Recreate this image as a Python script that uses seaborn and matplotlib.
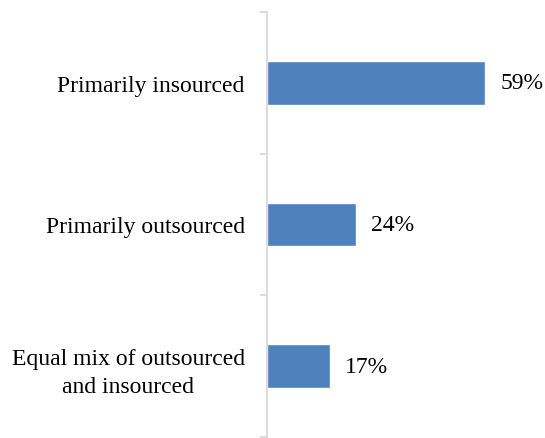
import matplotlib
matplotlib.use("Agg")
import matplotlib.pyplot as plt
import seaborn as sns
import pandas as pd
import numpy as np

categories = ["Primarily insourced", "Primarily outsourced",
              "Equal mix of outsourced\nand insourced"]
values = [59, 24, 17]
value_labels = ["59%", "24%", "17%"]

sns.set_theme(style="white")
plt.rcParams["font.family"] = ["Liberation Serif", "DejaVu Serif"]

df = pd.DataFrame({"category": categories, "share": values})

fig = plt.figure(figsize=(5.45, 4.39), dpi=100)
ax = fig.add_axes([267 / 545, 1 / 439, (526 - 267) / 545, (438 - 13) / 439])

sns.barplot(data=df, x="share", y="category", orient="h", color="#4F81BD",
            saturation=1, width=0.31, ax=ax)

for patch, lab in zip(ax.patches, value_labels):
    w = patch.get_width()
    y = patch.get_y() + patch.get_height() / 2
    ax.annotate(lab, xy=(w, y), xytext=(11, 0), textcoords="offset points",
                ha="left", va="center", fontsize=17, color="#000000")

ax.set_xlim(0, 70)
ax.set_ylim(len(categories) - 0.5, -0.5)
ax.set_xlabel("")
ax.set_ylabel("")
ax.set_xticks([])

for s in ["top", "right", "bottom"]:
    ax.spines[s].set_visible(False)
ax.spines["left"].set_color("#D9D9D9")
ax.spines["left"].set_linewidth(1.3)

ax.set_yticks(np.arange(len(categories)))
ax.set_yticklabels(categories, fontsize=17, multialignment="center",
                   color="#000000", linespacing=1.45)
ax.tick_params(axis="y", which="major", left=True, length=0, pad=16)
ax.set_yticks(np.arange(-0.5, len(categories), 1.0), minor=True)
ax.tick_params(axis="y", which="minor", left=True, length=5, width=1.3,
               color="#D9D9D9", direction="out")

fig.savefig("out.png", dpi=100)
